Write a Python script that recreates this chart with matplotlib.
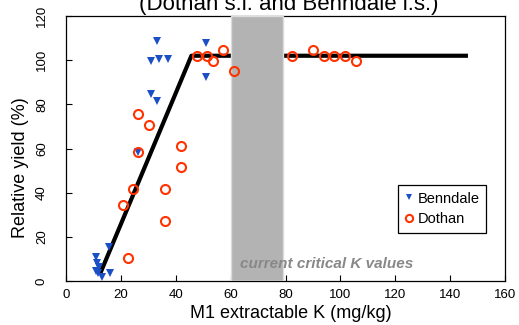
import matplotlib
matplotlib.use("Agg")
import matplotlib.pyplot as plt

plt.rcParams['font.family'] = ['Liberation Sans', 'DejaVu Sans']

# Benndale (blue triangles)
benn_x = [10.9, 15.7, 11.2, 12.1, 10.9, 11.8, 13.0, 16.0, 26.4, 31.0, 33.0, 31.0, 33.9, 37.0, 33.0, 50.9, 50.9]
benn_y = [10.8, 15.3, 8.0, 6.5, 4.7, 3.8, 2.0, 3.8, 58.5, 84.5, 81.5, 99.4, 100.5, 100.5, 108.5, 107.6, 92.4]

# Dothan (red open circles)
doth_x = [22.5, 20.6, 24.5, 36.0, 36.0, 26.4, 41.9, 41.9, 30.2, 26.4, 47.6, 51.5, 53.5, 57.2, 61.1,
          82.4, 90.2, 94.1, 97.8, 101.7, 105.6]
doth_y = [10.3, 34.5, 41.7, 41.7, 27.3, 58.5, 51.5, 61.0, 70.6, 75.6, 102.1, 102.1, 99.7, 104.7, 94.9,
          102.1, 104.5, 102.1, 102.1, 102.1, 99.7]

# linear-plateau fit
fit_x = [12.4, 45.7, 146.5]
fit_y = [3.2, 102.0, 102.0]

# critical range band
band = [60, 79]

xticks = [0, 20, 40, 60, 80, 100, 120, 140, 160]
yticks = [0, 20, 40, 60, 80, 100, 120]

fig = plt.figure(figsize=(5.19, 3.25), dpi=100)
ax = fig.add_axes([66/519, 44/325, 439/519, 265/325])

ax.plot(fit_x, fit_y, color='black', lw=3.0, zorder=2, solid_capstyle='butt')
ax.axvspan(band[0], band[1], facecolor='#b3b3b3', edgecolor='#dcdcdc', lw=1, zorder=3)
ax.plot(benn_x, benn_y, linestyle='none', marker='v', color='#1a4fc6', markersize=5.5,
        markeredgewidth=0, zorder=4, label='Benndale')
ax.plot(doth_x, doth_y, linestyle='none', marker='o', markerfacecolor='none',
        markeredgecolor='#ff3300', markersize=6.5, markeredgewidth=1.5, zorder=5, label='Dothan')

ax.text(63.5, 7.7, 'current critical K values', color='#888888', fontsize=11,
        fontweight='bold', fontstyle='italic', va='center', ha='left', zorder=6)

ax.set_xlim(0, 160)
ax.set_ylim(0, 120)
ax.set_xticks(xticks)
ax.set_yticks(yticks)
ax.tick_params(direction='in', length=4, width=0.8, labelsize=9.5, top=False, right=False)
ax.tick_params(axis='x', pad=6)
ax.tick_params(axis='y', pad=13)
for lab in ax.get_yticklabels():
    lab.set_rotation(90)
    lab.set_va('center')
for s in ax.spines.values():
    s.set_linewidth(0.9)

leg = ax.legend(loc='upper left', bbox_to_anchor=((398-66)/439, (281-185)/265),
                borderaxespad=0, fontsize=10.5, frameon=True, fancybox=False, framealpha=1,
                edgecolor='black', handlelength=0.6, handletextpad=0.3, markerscale=0.8,
                borderpad=0.45, labelspacing=0.45)
leg.get_frame().set_linewidth(0.9)

fig.text(21/519, 1 - 168/325, 'Relative yield (%)', rotation=90, ha='center', va='center', fontsize=13)
fig.text(291/519, 1 - 313/325, 'M1 extractable K (mg/kg)', ha='center', va='center', fontsize=13)
fig.text(289/519, 1 - 10/325, '(Dothan s.l. and Benndale l.s.)', ha='center', va='baseline', fontsize=16)

fig.savefig('out.png', dpi=100)
